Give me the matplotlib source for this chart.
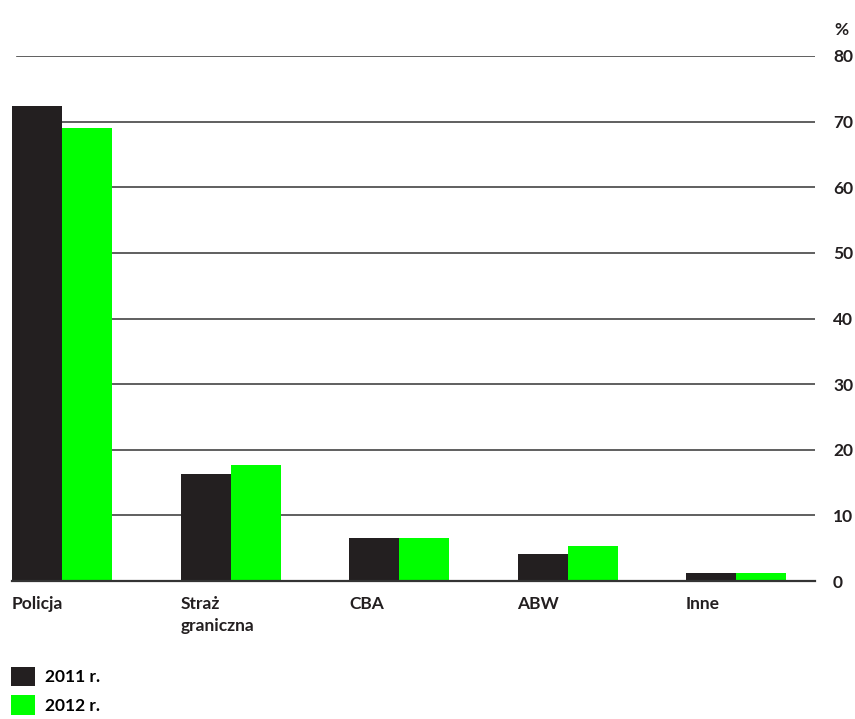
import numpy as np
import matplotlib
matplotlib.use("Agg")
import matplotlib.pyplot as plt

categories = ["Policja", "Straż\ngraniczna", "CBA", "ABW", "Inne"]
values_2011 = [72.4, 16.3, 6.55, 4.1, 1.2]
values_2012 = [69.0, 17.7, 6.55, 5.3, 1.2]
series_labels = ["2011 r.", "2012 r."]
yticks = [0, 10, 20, 30, 40, 50, 60, 70, 80]

plt.rcParams['font.family'] = ['Lato', 'DejaVu Sans']
plt.rcParams['font.weight'] = 'bold'
fs = 12.5
txt = '#231f20'

W, H = 855, 719
fig = plt.figure(figsize=(W / 100, H / 100), dpi=100)
left, right = 12 / W, 815 / W
bottom, top = (H - 581) / H, (H - 56) / H
ax = fig.add_axes([left, bottom, right - left, top - bottom])

x = np.arange(len(categories))
bw = 50 / 168.5
b1 = ax.bar(x - bw / 2, values_2011, bw, color='#231f20', label=series_labels[0], zorder=3)
b2 = ax.bar(x + bw / 2, values_2012, bw, color='#00ff00', label=series_labels[1], zorder=3)

ax.set_xlim(-bw, (815 - 62) / 168.5)
ax.set_ylim(0, 80)

for t in yticks[1:]:
    ax.axhline(t, xmin=0.006, xmax=1, color='#444444', lw=1.2, zorder=1)
ax.axhline(0, color='#333333', lw=1.6, zorder=4, clip_on=False)

for s in ax.spines.values():
    s.set_visible(False)

ax.yaxis.tick_right()
ax.set_yticks(yticks)
ax.tick_params(axis='y', length=0, pad=13, labelsize=fs, labelcolor=txt)
for lbl in ax.get_yticklabels():
    lbl.set_horizontalalignment('left')
ax.set_xticks([])

for i, c in enumerate(categories):
    ax.text(i - bw, -2.3, c, ha='left', va='top', fontsize=fs,
            color=txt, linespacing=1.45)

fig.text(834 / W, 1 - 30 / H, "%", ha='left', va='center', fontsize=fs,
         color=txt, fontweight='bold')

fig.legend(handles=[b1, b2], loc='upper left', bbox_to_anchor=(4 / W, 1 - 660 / H),
           frameon=False, fontsize=fs, handlelength=1.4, handleheight=1.35,
           handletextpad=0.55, labelspacing=0.5, borderaxespad=0)

fig.savefig("out.png", dpi=100)
